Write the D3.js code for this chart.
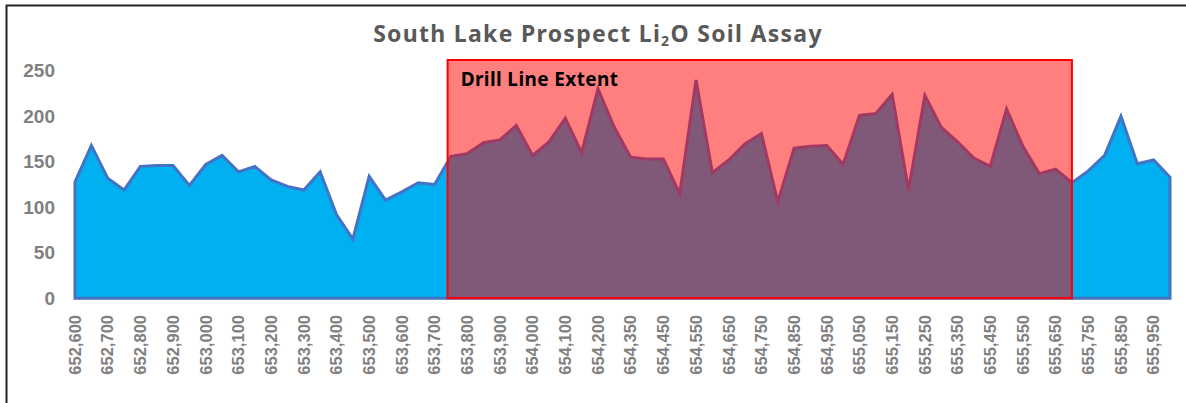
<!DOCTYPE html>
<html lang="en">
<head>
  <meta charset="UTF-8">
  <title>South Lake Prospect Li2O Soil Assay</title>
  <script src="https://d3js.org/d3.v7.min.js"></script>
  <style>
    body {
      margin: 0;
      padding: 0;
      background: #fff;
    }

    svg {
      display: block;
    }

    .tick-label {
      font-family: "Liberation Sans", Arial, sans-serif;
      font-weight: bold;
      fill: #808080;
    }
  </style>
</head>
<body>
  <div id="chart-container"></div>

  <script>
    // Sample eastings (category axis) and Li2O assay values
    const eastings = [
      652600, 652650, 652700, 652750, 652800, 652850, 652900, 652950,
      653000, 653050, 653100, 653150, 653200, 653250, 653300, 653350,
      653400, 653450, 653500, 653550, 653600, 653650, 653700, 653750,
      653800, 653850, 653900, 653950, 654000, 654050, 654100, 654150,
      654200, 654300, 654350, 654400, 654450, 654500, 654550, 654600,
      654650, 654700, 654750, 654800, 654850, 654900, 654950, 655000,
      655050, 655100, 655150, 655200, 655250, 655300, 655350, 655400,
      655450, 655500, 655550, 655600, 655650, 655700, 655750, 655800,
      655850, 655900, 655950, 656000
    ];

    const li2o = [
      128, 168, 132, 119, 145, 146, 146, 124,
      147, 157, 139, 145, 130, 123, 119, 139,
      92, 65, 134, 108, 117, 127, 125, 156,
      159, 171, 174, 190, 157, 172, 198, 160,
      230, 188, 155, 153, 153, 115, 240, 138,
      152, 170, 181, 106, 165, 167, 168, 147,
      201, 203, 224, 119, 223, 188, 172, 154,
      145, 208, 167, 137, 142, 127, 140, 157,
      200, 148, 152, 133
    ];

    const yTicks = [0, 50, 100, 150, 200, 250];

    // drill line runs from just before 653,750 to 655,700
    const drillExtent = [653740, 655700];

    const width = 1186;
    const height = 403;

    const svg = d3.create("svg")
      .attr("width", width)
      .attr("height", height);

    // page frame (top and left edges only are visible)
    svg.append("path")
      .attr("d", `M6.5,${height} V5.5 H${width}`)
      .attr("fill", "none")
      .attr("stroke", "#222")
      .attr("stroke-width", 2);

    const x = d3.scaleLinear()
      .domain([0, eastings.length - 1])
      .range([75, 1170]);

    const y = d3.scaleLinear()
      .domain([0, 250])
      .range([298.3, 70.8]);

    // easting -> fractional category index
    function eastIndex(e) {
      const i = d3.bisectLeft(eastings, e);
      if (eastings[i] === e) return i;
      const a = eastings[i - 1], b = eastings[i];
      return i - 1 + (e - a) / (b - a);
    }

    // title
    const title = svg.append("text")
      .attr("x", 598)
      .attr("y", 42)
      .attr("text-anchor", "middle")
      .attr("font-family", "'Noto Sans', 'Open Sans', sans-serif")
      .attr("font-weight", "bold")
      .attr("font-size", 23)
      .attr("letter-spacing", 1.3)
      .attr("fill", "#595959");
    title.append("tspan").text("South Lake Prospect Li");
    title.append("tspan").attr("font-size", 14).attr("dy", 4).text("2");
    title.append("tspan").attr("dy", -4).text("O Soil Assay");

    // area
    const area = d3.area()
      .x((d, i) => x(i))
      .y0(y(0))
      .y1(d => y(d));

    svg.append("path")
      .datum(li2o)
      .attr("d", area(li2o) + "Z")
      .attr("fill", "#00B0F0")
      .attr("stroke", "#4472C4")
      .attr("stroke-width", 3)
      .attr("stroke-linejoin", "miter");

    // drill line extent box
    const x0 = x(eastIndex(drillExtent[0]));
    const x1 = x(eastIndex(drillExtent[1]));
    svg.append("rect")
      .attr("x", x0)
      .attr("y", 60)
      .attr("width", x1 - x0)
      .attr("height", y(0) - 60)
      .attr("fill", "rgba(255,0,0,0.5)")
      .attr("stroke", "#FF0000")
      .attr("stroke-width", 2);

    svg.append("text")
      .attr("x", x0 + 13)
      .attr("y", 86)
      .attr("font-family", "'Noto Sans', 'Open Sans', sans-serif")
      .attr("font-weight", "bold")
      .attr("font-size", 19)
      .attr("letter-spacing", 0.4)
      .attr("fill", "#000")
      .text("Drill Line Extent");

    // y axis labels
    svg.append("g")
      .selectAll("text")
      .data(yTicks)
      .join("text")
      .attr("class", "tick-label")
      .attr("x", 55)
      .attr("y", d => y(d))
      .attr("dy", "0.35em")
      .attr("text-anchor", "end")
      .attr("font-size", 19)
      .text(d => d);

    // x axis labels, every other category
    const fmt = d3.format(",");
    svg.append("g")
      .selectAll("text")
      .data(eastings.map((e, i) => ({ e, i })).filter(d => d.i % 2 === 0))
      .join("text")
      .attr("class", "tick-label")
      .attr("font-size", 16.5)
      .attr("text-anchor", "end")
      .attr("dy", "0.35em")
      .attr("transform", d => `translate(${x(d.i)},315) rotate(-90)`)
      .text(d => fmt(d.e));

    document.getElementById("chart-container").appendChild(svg.node());
  </script>
</body>
</html>
